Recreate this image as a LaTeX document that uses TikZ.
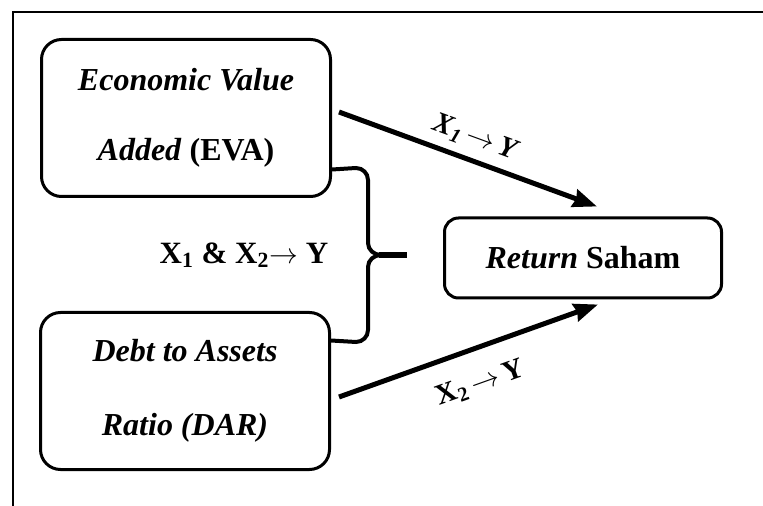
\documentclass[tikz,border=0pt]{standalone}
\usepackage{fontspec}
\setmainfont{Liberation Serif}
\usepackage{tikz}
\usetikzlibrary{arrows.meta}

\tikzset{
  varbox/.style={draw, line width=1.5pt, rounded corners=10pt, minimum width=144.5pt,
    minimum height=78.5pt, align=center, font=\fontsize{16}{35}\selectfont\bfseries},
  flow/.style={line width=2.5pt, -{Stealth[length=12pt, width=9pt, inset=1pt]}},
  brace/.style={line width=2pt},
  flowlabel/.style={font=\fontsize{14.5}{16}\selectfont\bfseries},
}

\begin{document}
\begin{tikzpicture}[x=0.5pt, y=-0.5pt]
    \useasboundingbox (0,0) rectangle (763,506);

    % Frame
    \draw[line width=1pt] (13,506) -- (13,12) -- (763,12);

    % Variables
    \node[varbox] (eva) at (186,118) {\textit{Economic Value}\\\textit{Added} (EVA)};
    \node[varbox, font=\fontsize{16}{37}\selectfont\bfseries] (dar) at (185,391)
        {\textit{Debt to Assets}\\\textit{Ratio (DAR)}};
    \node[varbox, rounded corners=7pt, minimum width=138.5pt, minimum height=40pt] (ret) at (583,258)
        {\textit{Return} Saham};

    % Partial effects
    \draw[flow] ([shift={(7,-6)}]eva.east) -- ([shift={(14,-10)}]ret.north)
        node[midway, sloped, above=1pt, flowlabel] (lblone) {\textit{X\textsubscript{1}\,$\rightarrow$\,Y}};
    \draw[flow] ([shift={(8,6)}]dar.east) -- ([shift={(15,5)}]ret.south)
        node[midway, sloped, below=7pt, flowlabel] (lbltwo) {X\textsubscript{2}\,$\rightarrow$\,Y};

    % Joint effect (brace)
    \coordinate (tip) at (407,255);
    \draw[brace] ([yshift=14.25pt]eva.south east) -- (356,168) to[out=0, in=90] (368,180)
        -- (368,243) to[out=-90, in=180] (381,255);
    \draw[brace] (381,255) to[out=180, in=90] (368,267) -- (368,330)
        to[out=-90, in=0] (356,342) -- ([yshift=-14.75pt]dar.north east);
    \draw[line width=2.6pt] (379,255) -- (tip);
    \node[flowlabel, font=\fontsize{15.5}{17}\selectfont\bfseries] (joint) at (244,255)
        {X\textsubscript{1} \& X\textsubscript{2}$\rightarrow$ Y};

\end{tikzpicture}
\end{document}
